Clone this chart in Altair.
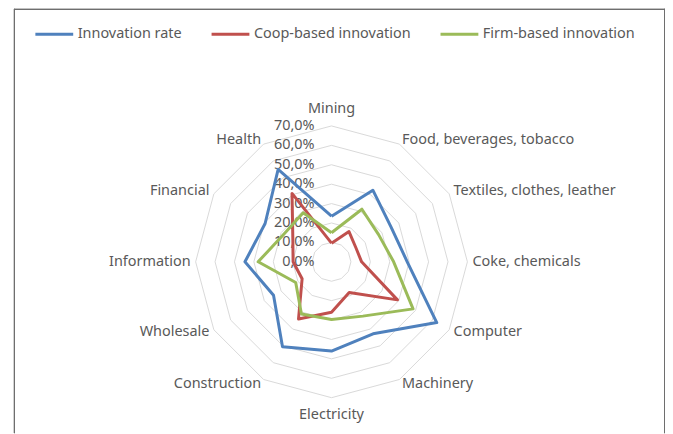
import math
import altair as alt
import pandas as pd

CATEGORIES = [
    "Mining", "Food, beverages, tobacco", "Textiles, clothes, leather",
    "Coke, chemicals", "Computer", "Machinery", "Electricity",
    "Construction", "Wholesale", "Information", "Financial", "Health",
]
INNOVATION = [23.5, 42.6, 35.5, 39.0, 62.6, 42.8, 46.0, 50.5, 34.5, 44.6, 39.5, 55.0]
COOP = [9.6, 18.0, 14.5, 15.5, 39.2, 18.2, 26.0, 34.0, 17.5, 19.8, 23.0, 40.7]
FIRM = [15.0, 31.3, 28.0, 32.0, 48.5, 32.3, 29.7, 31.0, 21.3, 37.8, 28.4, 29.2]
SERIES = ["Innovation rate", "Coop-based innovation", "Firm-based innovation"]
COLORS = ["#4F81BD", "#C0504D", "#9BBB59"]
GRID_LEVELS = [10, 20, 30, 40, 50, 60, 70]
TICK_VALUES = [0, 10, 20, 30, 40, 50, 60, 70]
TICK_LABELS = ["0,0%", "10,0%", "20,0%", "30,0%", "40,0%", "50,0%", "60,0%", "70,0%"]

N = len(CATEGORIES)
FONT = "Noto Sans"
TXT = "#595959"
FS = 14.5

# layout (pixels)
W, H = 660, 426
CX, CY = 325.0, 254.0
UNIT = 1.95  # px per percentage point
XDOM = [-CX / UNIT, (W - CX) / UNIT]
YDOM = [(CY - H) / UNIT, CY / UNIT]
R_LABEL = 72.6

series_rows = []
for s, vals in zip(SERIES, [INNOVATION, COOP, FIRM]):
    for i in range(N + 1):
        series_rows.append({"series": s, "idx": i, "value": vals[i % N]})
series_df = pd.DataFrame(series_rows)

grid_df = pd.DataFrame([{"level": lv, "idx": i} for lv in GRID_LEVELS for i in range(N + 1)])
tick_df = pd.DataFrame({"value": TICK_VALUES, "label": TICK_LABELS})
cat_df = pd.DataFrame({"category": CATEGORIES, "idx": list(range(N))})

xs = alt.Scale(domain=XDOM, nice=False, zero=False)
ys = alt.Scale(domain=YDOM, nice=False, zero=False)

step = f"{2 * math.pi / N}"

grid = alt.Chart(grid_df).transform_calculate(
    ang=f"datum.idx * {step}",
    px="datum.level * sin(datum.ang)",
    py="datum.level * cos(datum.ang)",
).mark_line(stroke="#D9D9D9", strokeWidth=1).encode(
    x=alt.X("px:Q", scale=xs, axis=None),
    y=alt.Y("py:Q", scale=ys, axis=None),
    detail="level:N",
    order="idx:Q",
)

ticks = alt.Chart(tick_df).transform_calculate(px="0").mark_text(
    align="right", baseline="middle", dx=-17, font=FONT, fontSize=FS, color=TXT
).encode(
    x=alt.X("px:Q", scale=xs, axis=None),
    y=alt.Y("value:Q", scale=ys, axis=None),
    text="label:N",
)

lines = alt.Chart(series_df).transform_calculate(
    ang=f"datum.idx * {step}",
    px="datum.value * sin(datum.ang)",
    py="datum.value * cos(datum.ang)",
).mark_line(strokeWidth=3, strokeJoin="round").encode(
    x=alt.X("px:Q", scale=xs, axis=None),
    y=alt.Y("py:Q", scale=ys, axis=None),
    color=alt.Color(
        "series:N",
        scale=alt.Scale(domain=SERIES, range=COLORS),
        legend=alt.Legend(
            title=None, orient="none", direction="horizontal",
            legendX=26, legendY=5, padding=0,
            symbolType="stroke", symbolSize=1444, symbolStrokeWidth=3,
            labelFont=FONT, labelFontSize=FS, labelColor=TXT,
            labelOffset=3, columnPadding=23,
        ),
    ),
    order="idx:Q",
)

cat_base = alt.Chart(cat_df).transform_calculate(
    ang=f"datum.idx * {step}",
    px=f"{R_LABEL} * sin(datum.ang)",
    py=f"{R_LABEL} * cos(datum.ang)",
)
enc = dict(
    x=alt.X("px:Q", scale=xs, axis=None),
    y=alt.Y("py:Q", scale=ys, axis=None),
    text="category:N",
)
txt_kw = dict(baseline="middle", font=FONT, fontSize=FS, color=TXT)
cat_right = cat_base.transform_filter("datum.idx >= 1 && datum.idx <= 5").mark_text(align="left", **txt_kw).encode(**enc)
cat_left = cat_base.transform_filter("datum.idx >= 7").mark_text(align="right", **txt_kw).encode(**enc)
cat_top = cat_base.transform_filter("datum.idx == 0").mark_text(align="center", dy=-12, **txt_kw).encode(**enc)
cat_bot = cat_base.transform_filter("datum.idx == 6").mark_text(align="center", dy=12, **txt_kw).encode(**enc)

border_l = alt.Chart(cat_df).mark_rule(color="#6E6E6E", strokeWidth=1).encode(
    x=alt.value(6.5), y=alt.value(0), y2=alt.value(H))
border_r = alt.Chart(cat_df).mark_rule(color="#6E6E6E", strokeWidth=1).encode(
    x=alt.value(659.5), y=alt.value(0), y2=alt.value(H))
border_t = alt.Chart(cat_df).mark_rule(color="#6E6E6E", strokeWidth=1).encode(
    x=alt.value(6.5), x2=alt.value(659.5), y=alt.value(0.5))

chart = alt.layer(
    grid, ticks, lines, cat_right, cat_left, cat_top, cat_bot, border_l, border_r, border_t
).properties(
    width=W, height=H, padding=0, autosize="none", background="white"
).configure_view(stroke=None)

chart.save("out.html", embed_options={"renderer": "svg", "actions": False})
